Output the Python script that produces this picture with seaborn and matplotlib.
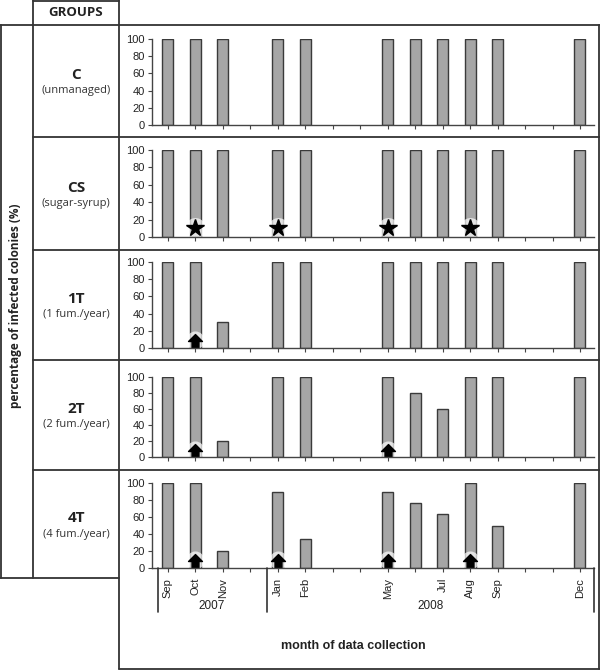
import numpy as np
import pandas as pd
import matplotlib
matplotlib.use("Agg")
import matplotlib.pyplot as plt
from matplotlib.lines import Line2D
import seaborn as sns

# month slots on the x axis (Sep 2007 .. Dec 2008)
months = ["Sep07", "Oct07", "Nov07", "Dec07", "Jan08", "Feb08", "Mar08", "Apr08",
          "May08", "Jun08", "Jul08", "Aug08", "Sep08", "Oct08", "Nov08", "Dec08"]
month_labels = ["Sep", "Oct", "Nov", "", "Jan", "Feb", "", "",
                "May", "", "Jul", "Aug", "Sep", "", "", "Dec"]

groups = ["C", "CS", "1T", "2T", "4T"]
group_notes = ["(unmanaged)", "(sugar-syrup)", "(1 fum./year)", "(2 fum./year)", "(4 fum./year)"]

N = None
vals_C = [100, 100, 100, N, 100, 100, N, N, 100, 100, 100, 100, 100, N, N, 100]
vals_CS = [100, 100, 100, N, 100, 100, N, N, 100, 100, 100, 100, 100, N, N, 100]
vals_1T = [100, 100, 30, N, 100, 100, N, N, 100, 100, 100, 100, 100, N, N, 100]
vals_2T = [100, 100, 20, N, 100, 100, N, N, 100, 80, 60, 100, 100, N, N, 100]
vals_4T = [100, 100, 20, N, 90, 34, N, N, 89, 76, 63, 100, 50, N, N, 100]
all_vals = [vals_C, vals_CS, vals_1T, vals_2T, vals_4T]

# treatment marks: stars (sugar syrup) and arrows (fumigation)
stars = {"CS": ["Oct07", "Jan08", "May08", "Aug08"]}
arrows = {"1T": ["Oct07"], "2T": ["Oct07", "May08"],
          "4T": ["Oct07", "Jan08", "May08", "Aug08"]}

sns.set_style("white")
plt.rcParams["font.family"] = ["Liberation Sans", "DejaVu Sans"]

W, H = 600, 670
fig = plt.figure(figsize=(6, 6.7), dpi=100)


def fx(x):
    return x / W


def fy(y):
    return 1 - y / H


def hline(y, x0, x1, lw=1.3, color="#333333"):
    fig.add_artist(Line2D([fx(x0), fx(x1)], [fy(y), fy(y)], lw=lw, color=color))


def vline(x, y0, y1, lw=1.3, color="#333333"):
    fig.add_artist(Line2D([fx(x), fx(x)], [fy(y0), fy(y1)], lw=lw, color=color))


# table frame
hline(1, 33, 119)
vline(33, 0, 578)
vline(119, 0, 669)
hline(25, 0, 600)
vline(1, 25, 578)
hline(578, 0, 119)
vline(599, 25, 669)
hline(669, 119, 600)
row_edges = [25, 137, 250, 360, 470, 578]
for y in row_edges[1:-1]:
    hline(y, 33, 600)

fig.text(fx(76), fy(13), "GROUPS", ha="center", va="center", fontsize=9.5,
         fontweight="bold", family=["Open Sans", "DejaVu Sans"], color="#222222")
fig.text(fx(16), fy(306), "percentage of infected colonies (%)", rotation=90,
         ha="center", va="center", fontsize=8.5, fontweight="bold",
         family=["Open Sans", "DejaVu Sans"], color="#222222")

# axes pixel extents (value 100 at top, value 0 at bottom)
ax_rows = [(39, 125), (150, 237), (262, 348), (377, 457), (483, 568)]
ax_left, ax_right = 152, 594
bar_color = "#a6a6a6"

house = [(-0.5, -1), (0.5, -1), (0.5, 0), (1, 0), (0, 1), (-1, 0), (-0.5, 0), (-0.5, -1)]

for i, g in enumerate(groups):
    top, bot = ax_rows[i]
    ax = fig.add_axes([fx(ax_left), fy(bot), fx(ax_right - ax_left), (bot - top) / H])
    df = pd.DataFrame({"month": months, "value": all_vals[i]}).dropna()
    sns.barplot(data=df, x="month", y="value", order=months, color=bar_color,
                width=0.4, edgecolor="#3a3a3a", linewidth=1, saturation=1,
                errorbar=None, ax=ax)
    ax.set_xlim(-0.58, 15.51)
    ax.set_ylim(0, 100)
    ax.set_yticks([0, 20, 40, 60, 80, 100])
    ax.set_xticks(range(len(months)))
    for s in ["top", "right"]:
        ax.spines[s].set_visible(False)
    for s in ["left", "bottom"]:
        ax.spines[s].set_color("#444444")
        ax.spines[s].set_linewidth(1)
    ax.tick_params(axis="both", direction="out", length=3, width=0.8,
                   color="#444444", labelsize=8, labelcolor="#222222", pad=2)
    ax.tick_params(axis="both", which="both", bottom=True, left=True)
    ax.set_xlabel("")
    ax.set_ylabel("")
    if i == len(groups) - 1:
        ax.set_xticklabels(month_labels, rotation=90, fontsize=8)
        ax.tick_params(axis="x", pad=4)
    else:
        ax.set_xticklabels([])

    for m in stars.get(g, []):
        xi = months.index(m)
        ax.plot(xi, 10, marker="o", ms=15, color="white", alpha=0.7, mec="none")
        ax.plot(xi, 10, marker="*", ms=13, color="black", mec="black")
    for m in arrows.get(g, []):
        xi = months.index(m)
        ax.plot(xi, 9, marker="o", ms=13, color="white", alpha=0.7, mec="none")
        ax.plot(xi, 8, marker=house, ms=10, color="black", mec="black")

    cy = (row_edges[i] + row_edges[i + 1]) / 2
    fig.text(fx(76), fy(cy - 6), g, ha="center", va="center", fontsize=11,
             fontweight="bold", family=["Open Sans", "DejaVu Sans"], color="#222222")
    fig.text(fx(76), fy(cy + 10), group_notes[i], ha="center", va="center",
             fontsize=8, family=["Open Sans", "DejaVu Sans"], color="#333333")

# year separators below the month labels
for x in [158, 267, 594]:
    vline(x, 568, 612, lw=1.2)
fig.text(fx(212), fy(606), "2007", ha="center", va="center", fontsize=8.5, color="#222222")
fig.text(fx(431), fy(606), "2008", ha="center", va="center", fontsize=8.5, color="#222222")
fig.text(fx(353), fy(646), "month of data collection", ha="center", va="center",
         fontsize=9, fontweight="bold", color="#222222")

fig.savefig("out.png", dpi=100)
